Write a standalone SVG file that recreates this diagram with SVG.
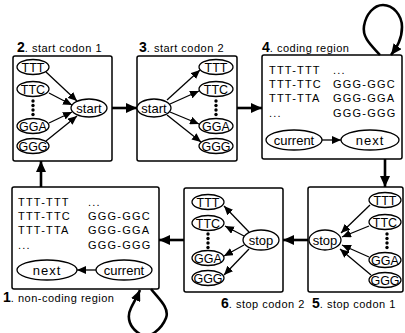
<svg xmlns="http://www.w3.org/2000/svg" width="405" height="333" viewBox="0 0 405 333">
<style>
text{font-family:"Liberation Sans",Arial,sans-serif;fill:#000}
.box{fill:#fff;stroke:#000;stroke-width:1.5}
.el{fill:#fff;stroke:#000;stroke-width:1.3}
.t{font-size:12.5px;text-anchor:middle}
.code{font-size:11px;letter-spacing:1.2px}
.lab{font-size:11px;letter-spacing:0.5px}
.num{font-size:14px;font-weight:bold}
.thin{stroke:#000;stroke-width:1.3;fill:none;marker-end:url(#ah)}
.thick{stroke:#000;stroke-width:2.6;fill:none;marker-end:url(#AH)}
</style>
<defs>
<marker id="ah" markerUnits="userSpaceOnUse" markerWidth="10" markerHeight="8" refX="9" refY="4" orient="auto"><path d="M0,0 L9,4 L0,8 z" fill="#000"/></marker>
<marker id="AH" markerUnits="userSpaceOnUse" markerWidth="12" markerHeight="10" refX="11" refY="5" orient="auto"><path d="M0,0 L11,5 L0,10 z" fill="#000"/></marker>
</defs>

<g id="node2">
<rect class="box" x="13" y="56" width="99" height="105" rx="2"/>
<text x="17" y="52"><tspan class="num">2</tspan><tspan class="lab">. start codon 1</tspan></text>
<ellipse class="el" cx="33" cy="67" rx="16" ry="7.5"/><text class="t" x="33" y="71.5">TTT</text>
<ellipse class="el" cx="33" cy="89" rx="16" ry="7.5"/><text class="t" x="33" y="93.5">TTC</text>
<circle cx="33" cy="101" r="1.7"/><circle cx="33" cy="105.5" r="1.7"/><circle cx="33" cy="110" r="1.7"/><circle cx="33" cy="114.5" r="1.7"/>
<ellipse class="el" cx="33" cy="126" rx="16" ry="7.5"/><text class="t" x="33" y="130.5">GGA</text>
<ellipse class="el" cx="33" cy="146" rx="16" ry="7.5"/><text class="t" x="33" y="150.5">GGG</text>
<ellipse class="el" cx="89" cy="108" rx="18" ry="9"/><text class="t" x="89" y="112.5" style="font-size:13px">start</text>
<path class="thin" d="M46,72 L77,101"/>
<path class="thin" d="M49,93 L72,105"/>
<path class="thin" d="M49,123 L72,112"/>
<path class="thin" d="M46,141 L77,116"/>
</g>

<g id="node3">
<rect class="box" x="137" y="56" width="100" height="105" rx="2"/>
<text x="139" y="52"><tspan class="num">3</tspan><tspan class="lab">. start codon 2</tspan></text>
<ellipse class="el" cx="154" cy="108" rx="17" ry="9"/><text class="t" x="154" y="112.5" style="font-size:13px">start</text>
<ellipse class="el" cx="216" cy="67" rx="17" ry="7.5"/><text class="t" x="216" y="71.5">TTT</text>
<ellipse class="el" cx="216" cy="89" rx="17" ry="7.5"/><text class="t" x="216" y="93.5">TTC</text>
<circle cx="216" cy="101" r="1.7"/><circle cx="216" cy="105.5" r="1.7"/><circle cx="216" cy="110" r="1.7"/><circle cx="216" cy="114.5" r="1.7"/>
<ellipse class="el" cx="216" cy="126" rx="17" ry="7.5"/><text class="t" x="216" y="130.5">GGA</text>
<ellipse class="el" cx="216" cy="146" rx="17" ry="7.5"/><text class="t" x="216" y="150.5">GGG</text>
<path class="thin" d="M167,100 L200,70"/>
<path class="thin" d="M170,104 L199,91"/>
<path class="thin" d="M170,112 L199,124"/>
<path class="thin" d="M167,115 L201,142"/>
</g>

<g id="node4">
<rect class="box" x="262" y="55" width="140" height="104" rx="2"/>
<text x="262" y="52"><tspan class="num">4</tspan><tspan class="lab">. coding region</tspan></text>
<text class="code" x="269" y="74">TTT-TTT</text>
<text class="code" x="269" y="88">TTT-TTC</text>
<text class="code" x="269" y="102">TTT-TTA</text>
<text class="code" x="269" y="117">...</text>
<text class="code" x="333" y="74">...</text>
<text class="code" x="333" y="88">GGG-GGC</text>
<text class="code" x="333" y="102">GGG-GGA</text>
<text class="code" x="333" y="117">GGG-GGG</text>
<ellipse class="el" cx="294" cy="140" rx="28" ry="10"/><text class="t" x="294" y="145" style="font-size:13px">current</text>
<ellipse class="el" cx="370" cy="140" rx="29" ry="10"/><text class="t" x="370" y="145" style="font-size:13px;letter-spacing:1px">next</text>
<path class="thin" d="M322,140 L341,140"/>
</g>

<g id="node5">
<rect class="box" x="308" y="187" width="95" height="105" rx="2"/>
<text x="312" y="308"><tspan class="num">5</tspan><tspan class="lab">. stop codon 1</tspan></text>
<ellipse class="el" cx="325" cy="240" rx="16" ry="10"/><text class="t" x="325" y="244.5" style="font-size:13px">stop</text>
<ellipse class="el" cx="385" cy="200" rx="16" ry="7.5"/><text class="t" x="385" y="204.5">TTT</text>
<ellipse class="el" cx="385" cy="222" rx="16" ry="7.5"/><text class="t" x="385" y="226.5">TTC</text>
<circle cx="387" cy="234" r="1.7"/><circle cx="387" cy="238.5" r="1.7"/><circle cx="387" cy="243" r="1.7"/><circle cx="387" cy="247.5" r="1.7"/>
<ellipse class="el" cx="385" cy="260" rx="16" ry="7.5"/><text class="t" x="385" y="264.5">GGA</text>
<ellipse class="el" cx="385" cy="280" rx="16" ry="7.5"/><text class="t" x="385" y="284.5">GGG</text>
<path class="thin" d="M370,205 L341,233"/>
<path class="thin" d="M369,226 L342,237"/>
<path class="thin" d="M369,257 L342,245"/>
<path class="thin" d="M371,275 L340,249"/>
</g>

<g id="node6">
<rect class="box" x="184" y="188" width="99" height="104" rx="2"/>
<text x="221" y="308"><tspan class="num">6</tspan><tspan class="lab">. stop codon 2</tspan></text>
<ellipse class="el" cx="261" cy="240" rx="18" ry="10"/><text class="t" x="261" y="244.5" style="font-size:13px">stop</text>
<ellipse class="el" cx="208" cy="202" rx="16" ry="7.5"/><text class="t" x="208" y="206.5">TTT</text>
<ellipse class="el" cx="208" cy="223" rx="16" ry="7.5"/><text class="t" x="208" y="227.5">TTC</text>
<circle cx="208" cy="234" r="1.7"/><circle cx="208" cy="238.5" r="1.7"/><circle cx="208" cy="243" r="1.7"/><circle cx="208" cy="247.5" r="1.7"/>
<ellipse class="el" cx="208" cy="258" rx="16" ry="7.5"/><text class="t" x="208" y="262.5">GGA</text>
<ellipse class="el" cx="208" cy="278" rx="16" ry="7.5"/><text class="t" x="208" y="282.5">GGG</text>
<path class="thin" d="M249,232 L224,206"/>
<path class="thin" d="M244,236 L225,226"/>
<path class="thin" d="M244,245 L224,256"/>
<path class="thin" d="M249,249 L224,275"/>
</g>

<g id="node1">
<rect class="box" x="12" y="187" width="147" height="102" rx="2"/>
<text x="3" y="302"><tspan class="num">1</tspan><tspan class="lab">. non-coding region</tspan></text>
<text class="code" x="18" y="206">TTT-TTT</text>
<text class="code" x="18" y="220">TTT-TTC</text>
<text class="code" x="18" y="234">TTT-TTA</text>
<text class="code" x="18" y="249">...</text>
<text class="code" x="88" y="206">...</text>
<text class="code" x="88" y="220">GGG-GGC</text>
<text class="code" x="88" y="234">GGG-GGA</text>
<text class="code" x="88" y="249">GGG-GGG</text>
<ellipse class="el" cx="47" cy="270" rx="30" ry="10"/><text class="t" x="47" y="275" style="font-size:13px;letter-spacing:1px">next</text>
<ellipse class="el" cx="124" cy="270" rx="28" ry="10"/><text class="t" x="124" y="275" style="font-size:13px">current</text>
<path class="thin" d="M96,270 L77,270"/>
</g>

<g id="connectors">
<path class="thick" d="M41,187 L41,161"/>
<path class="thick" d="M112,108 L137,108"/>
<path class="thick" d="M237,108 L262,108"/>
<path class="thick" d="M385,159 L385,187"/>
<path class="thick" d="M308,240 L283,240"/>
<path class="thick" d="M184,240 L159,240"/>
<path class="thick" d="M380,55 C372,46 362,38 364,26 C366,14 374,5 383,5 C393,5 402,15 402,27 C402,39 397,47 391,55"/>
<path class="thick" d="M151,289 C158,298 170,308 166,318 C162,328 150,340 140,334 C130,328 126,318 131,308 C134,302 137,297 140,290"/>
</g>
</svg>
